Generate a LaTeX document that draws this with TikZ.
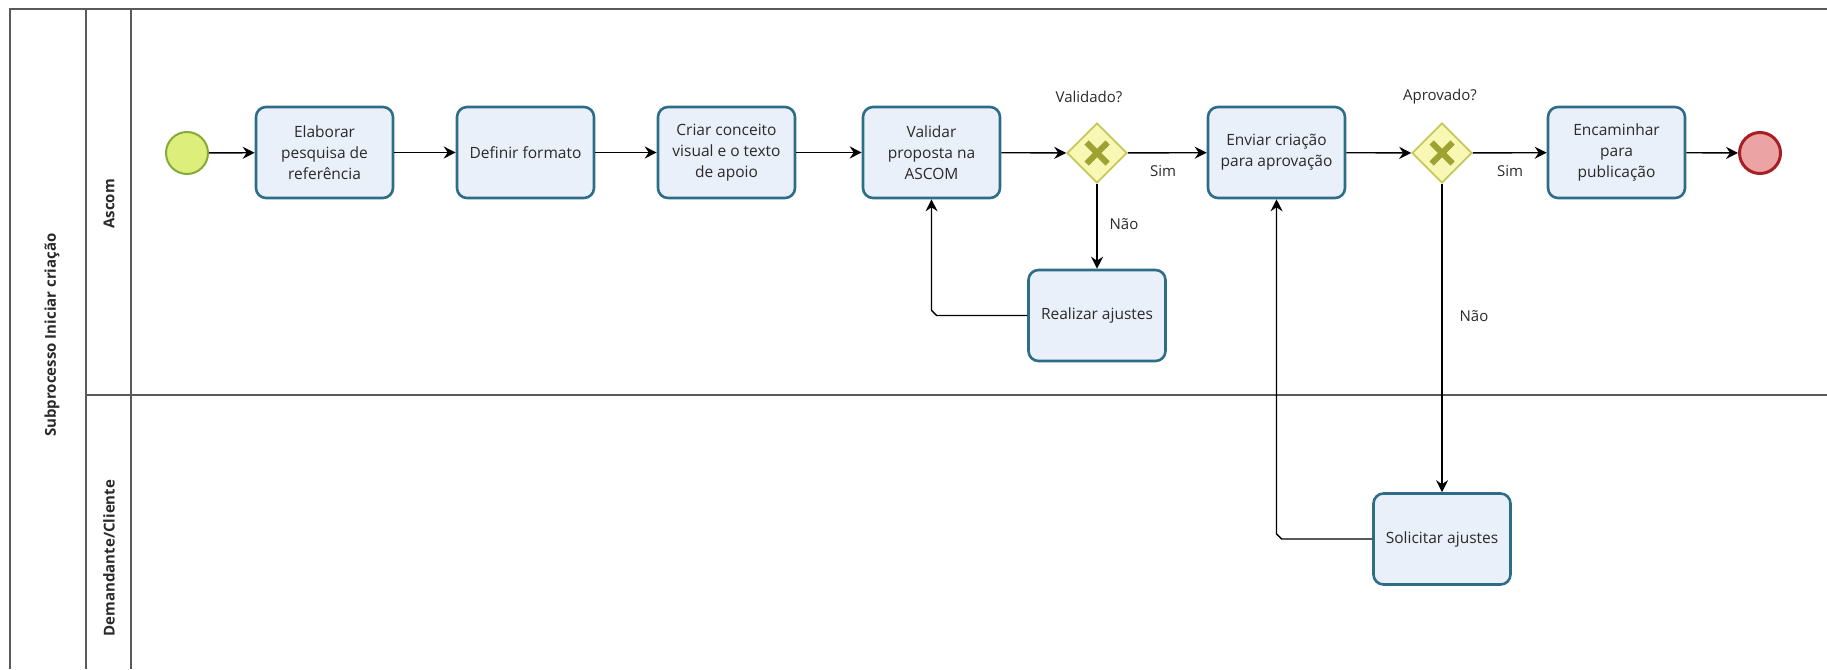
\documentclass[tikz,border=0pt]{standalone}
\usepackage{fontspec}
\setmainfont{Open Sans}
\usetikzlibrary{arrows.meta,shapes.geometric,calc}

\definecolor{poolline}{HTML}{5A5A5A}
\definecolor{taskfill}{HTML}{E9F0FA}
\definecolor{taskdraw}{HTML}{2E6D88}
\definecolor{startfill}{HTML}{DDEE7A}
\definecolor{startdraw}{HTML}{86AA3A}
\definecolor{endfill}{HTML}{EBA3A3}
\definecolor{enddraw}{HTML}{A81E26}
\definecolor{gwfill}{HTML}{F8F8B4}
\definecolor{gwdraw}{HTML}{C4C85A}
\definecolor{gwmark}{HTML}{9EA232}
\definecolor{txt}{HTML}{2A2A2A}

\tikzset{
  x=1pt, y=-1pt,
  pool/.style={draw=poolline, line width=1.3pt},
  lanetext/.style={rotate=90, font=\fontsize{15}{17}\selectfont\bfseries, text=txt},
  task/.style={draw=taskdraw, fill=taskfill, line width=2.6pt, rounded corners=10pt,
    minimum width=137pt, minimum height=91pt, inner sep=0pt, align=center,
    font=\fontsize{15.5}{21}\selectfont, text=txt},
  startev/.style={circle, draw=startdraw, fill=startfill, line width=2pt,
    minimum size=42pt, inner sep=0pt},
  endev/.style={circle, draw=enddraw, fill=endfill, line width=3pt,
    minimum size=41pt, inner sep=0pt},
  gw/.style={diamond, draw=gwdraw, fill=gwfill, line width=1.8pt,
    minimum width=60pt, minimum height=60pt, inner sep=0pt},
  flow/.style={draw=black, line width=1.4pt,
    -{Stealth[length=12pt, width=12pt, inset=4pt]}},
  lbl/.style={font=\fontsize{15}{18}\selectfont, text=txt, inner sep=0pt}
}

\newcommand{\gwcross}[1]{%
  \draw[gwmark, line width=6pt] ($(#1)+(-10.5,-10.5)$) -- ($(#1)+(10.5,10.5)$);
  \draw[gwmark, line width=6pt] ($(#1)+(-10.5,10.5)$) -- ($(#1)+(10.5,-10.5)$);}

\begin{document}
\begin{tikzpicture}
\useasboundingbox (0,0) rectangle (1827,669);

% pool and lanes
\draw[pool] (1827,9) -- (10,9) -- (10,669);
\draw[pool] (86,9) -- (86,669);
\draw[pool] (131,9) -- (131,669);
\draw[pool] (86,395) -- (1827,395);

\node[lanetext] (poolname) at (52,335) {Subprocesso Iniciar criação};
\node[lanetext] (laneA) at (109,204) {Ascom};
\node[lanetext] (laneB) at (109,558) {Demandante/Cliente};

% events, tasks and gateways
\node[startev] (start) at (187,153) {};
\node[task] (t1) at (324.5,152.5) {Elaborar\\pesquisa de\\referência};
\node[task] (t2) at (525.5,152.5) {Definir formato};
\node[task] (t3) at (726.5,152.5) {Criar conceito\\visual e o texto\\de apoio};
\node[task] (t4) at (931.5,152.5) {Validar\\proposta na\\ASCOM};
\node[gw] (g1) at (1097,153) {};
\gwcross{g1}
\node[task] (t5) at (1276.5,152.5) {Enviar criação\\para aprovação};
\node[gw] (g2) at (1442,153) {};
\gwcross{g2}
\node[task] (t6) at (1616.5,152.5) {Encaminhar\\para\\publicação};
\node[endev] (end) at (1760,153) {};
\node[task] (r1) at (1097,315.5) {Realizar ajustes};
\node[task] (s1) at (1442,539) {Solicitar ajustes};

% gateway captions and flow labels
\node[lbl] (q1) at (1089,97) {Validado?};
\node[lbl] (q2) at (1440,97) {Aprovado?};
\node[lbl] (y1) at (1163,171) {Sim};
\node[lbl] (n1) at (1124,224) {Não};
\node[lbl] (y2) at (1510,171) {Sim};
\node[lbl] (n2) at (1474,316) {Não};

% sequence flows
\draw[flow] (start) -- (t1);
\draw[flow] (t1) -- (t2);
\draw[flow] (t2) -- (t3);
\draw[flow] (t3) -- (t4);
\draw[flow] (t4) -- (g1);
\draw[flow] (g1) -- (t5);
\draw[flow] (g1) -- (r1);
\draw[flow] (t5) -- (g2);
\draw[flow] (g2) -- (t6);
\draw[flow] (g2) -- (s1);
\draw[flow] (t6) -- (end);

% rework loops
\draw[flow] (r1.west) -- ($(t4.south |- r1.west)+(5,0)$) -- ($(t4.south |- r1.west)+(0,-5)$) -- (t4.south);
\draw[flow] (s1.west) -- ($(t5.south |- s1.west)+(5,0)$) -- ($(t5.south |- s1.west)+(0,-5)$) -- (t5.south);
\end{tikzpicture}
\end{document}
